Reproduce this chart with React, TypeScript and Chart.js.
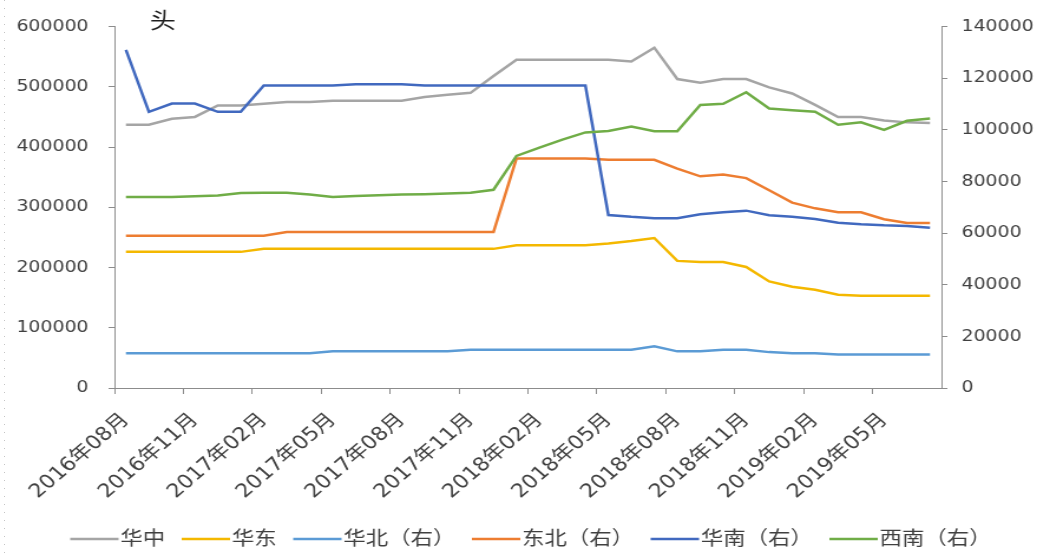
import React, { useEffect, useRef } from "react";
import { Chart, registerables } from "chart.js";

Chart.register(...registerables);

// ---------- data ----------
const categories: string[] = [
  "2016年08月", "2016年09月", "2016年10月", "2016年11月", "2016年12月", "2017年01月",
  "2017年02月", "2017年03月", "2017年04月", "2017年05月", "2017年06月", "2017年07月",
  "2017年08月", "2017年09月", "2017年10月", "2017年11月", "2017年12月", "2018年01月",
  "2018年02月", "2018年03月", "2018年04月", "2018年05月", "2018年06月", "2018年07月",
  "2018年08月", "2018年09月", "2018年10月", "2018年11月", "2018年12月", "2019年01月",
  "2019年02月", "2019年03月", "2019年04月", "2019年05月", "2019年06月", "2019年07月",
];
const tickEvery = 3;

const huazhong: number[] = [
  437000, 437000, 447000, 450000, 469000, 469000, 472000, 475000, 475000, 477000,
  477000, 477000, 477000, 483000, 487000, 490000, 518000, 545000, 545000, 545000,
  545000, 545000, 542000, 565000, 513000, 507000, 513000, 513000, 499000, 489000,
  470000, 450000, 450000, 444000, 441000, 440000,
];
const huadong: number[] = [
  226000, 226000, 226000, 226000, 226000, 226000, 231000, 231000, 231000, 231000,
  231000, 231000, 231000, 231000, 231000, 231000, 231000, 237000, 237000, 237000,
  237000, 240000, 244000, 249000, 211000, 209000, 209000, 201000, 177000, 168000,
  163000, 155000, 153000, 153000, 153000, 153000,
];
const huabei: number[] = [
  13500, 13500, 13500, 13500, 13500, 13500, 13500, 13500, 13500, 14200,
  14200, 14200, 14200, 14200, 14200, 14800, 14800, 14800, 14800, 14800,
  14800, 14800, 14800, 16200, 14200, 14200, 14800, 14800, 13900, 13500,
  13500, 13000, 13000, 13000, 13000, 13000,
];
const dongbei: number[] = [
  59000, 59000, 59000, 59000, 59000, 59000, 59000, 60400, 60400, 60400,
  60400, 60400, 60400, 60400, 60400, 60400, 60400, 88900, 88900, 88900,
  88900, 88400, 88400, 88400, 85000, 82000, 82700, 81300, 76600, 71800,
  69600, 68100, 68100, 65400, 63900, 63900,
];
const huanan: number[] = [
  131000, 107000, 110200, 110200, 107000, 107000, 117200, 117200, 117200, 117200,
  117700, 117700, 117700, 117200, 117200, 117200, 117200, 117200, 117200, 117200,
  117200, 67000, 66300, 65800, 65800, 67300, 68100, 68700, 66900, 66300,
  65500, 64000, 63400, 63000, 62800, 62100,
];
const xinan: number[] = [
  74000, 74000, 74000, 74300, 74600, 75500, 75600, 75600, 75000, 74000,
  74400, 74700, 75000, 75100, 75300, 75600, 76800, 89900, 93100, 96200,
  99000, 99600, 101300, 99500, 99500, 109600, 110100, 114600, 108300, 107600,
  107000, 102000, 102900, 100000, 103500, 104400,
];

const seriesNames = ["华中", "华东", "华北（右）", "东北（右）", "华南（右）", "西南（右）"];
const seriesColors = ["#A5A5A5", "#F4B800", "#5B9BD5", "#ED7D31", "#4169BF", "#70AD47"];
const leftTicks = { min: 0, max: 600000, step: 100000 };
const rightTicks = { min: 0, max: 140000, step: 20000 };
const unitText = "头";

// ---------- style ----------
const FONT = '"DejaVu Sans", "Noto Sans CJK SC", sans-serif';
const TEXT = "#404040";
const AXIS = "#8c8c8c";
const CANVAS_W = 890; // stretched to 1050 via CSS
const CANVAS_H = 556;

const unitPlugin = {
  id: "unitLabel",
  afterDraw(chart: any) {
    const { ctx, chartArea } = chart;
    ctx.save();
    ctx.font = `22px ${FONT}`;
    ctx.fillStyle = "#1e1e1e";
    ctx.textAlign = "center";
    ctx.textBaseline = "middle";
    ctx.fillText(unitText, chartArea.left + 41, 22);
    ctx.restore();
  },
};

const legendPlugin = {
  id: "bottomLegend",
  afterDraw(chart: any) {
    const ctx = chart.ctx;
    const SW = 41;
    const GAP = 1.5;
    const ITEM_GAP = 14;
    const CX = 450;
    const Y = 540;
    ctx.save();
    ctx.font = `19px ${FONT}`;
    const items = chart.data.datasets.map((ds: any) => ({
      text: ds.label as string,
      color: ds.borderColor as string,
      w: ctx.measureText(ds.label).width,
    }));
    const total =
      items.reduce((a: number, it: any) => a + SW + GAP + it.w, 0) + ITEM_GAP * (items.length - 1);
    let x = CX - total / 2;
    for (const it of items) {
      ctx.strokeStyle = it.color;
      ctx.lineWidth = 2.5;
      ctx.beginPath();
      ctx.moveTo(x, Y - 1);
      ctx.lineTo(x + SW, Y - 1);
      ctx.stroke();
      ctx.fillStyle = TEXT;
      ctx.textAlign = "left";
      ctx.textBaseline = "middle";
      ctx.fillText(it.text, x + SW + GAP, Y);
      x += SW + GAP + it.w + ITEM_GAP;
    }
    ctx.restore();
  },
};

export default function App() {
  const ref = useRef<HTMLCanvasElement>(null);

  useEffect(() => {
    if (!ref.current) return;
    Chart.defaults.font.family = FONT;
    const data = [huazhong, huadong, huabei, dongbei, huanan, xinan];
    const axes = ["y", "y", "y1", "y1", "y1", "y1"];
    const datasets = data.map((d, i) => ({
      label: seriesNames[i],
      data: d,
      yAxisID: axes[i],
      borderColor: seriesColors[i],
      backgroundColor: seriesColors[i],
      borderWidth: 2.5,
      pointRadius: 0,
      pointHoverRadius: 0,
      tension: 0,
      fill: false,
      order: data.length - i,
    }));

    const gridTickColor = (c: any) =>
      typeof c.index === "number" && c.index % tickEvery === 0 ? AXIS : "rgba(0,0,0,0)";

    const chart = new Chart(ref.current, {
      type: "line",
      data: { labels: categories, datasets },
      plugins: [unitPlugin, legendPlugin],
      options: {
        responsive: false,
        animation: false,
        devicePixelRatio: 1,
        layout: { padding: { top: 20, left: 0, right: 0, bottom: 0 } },
        plugins: {
          legend: { display: false },
          tooltip: { enabled: false },
          title: { display: false },
        },
        scales: {
          x: {
            type: "category",
            offset: true,
            grid: {
              offset: true,
              drawOnChartArea: false,
              drawTicks: true,
              tickLength: 6,
              color: gridTickColor,
              tickColor: gridTickColor,
            },
            border: { display: true, color: AXIS, width: 1 },
            ticks: {
              autoSkip: false,
              maxRotation: 45,
              minRotation: 45,
              padding: 15,
              color: TEXT,
              font: { size: 19, family: FONT },
              callback: (_v: any, idx: number) =>
                idx % tickEvery === 0 ? categories[idx] : "",
            },
            afterFit: (s: any) => {
              s.height = CANVAS_H - 388;
            },
          },
          y: {
            type: "linear",
            position: "left",
            min: leftTicks.min,
            max: leftTicks.max,
            grid: { drawOnChartArea: false, tickLength: 5, color: AXIS },
            border: { display: true, color: AXIS, width: 1 },
            ticks: {
              stepSize: leftTicks.step,
              padding: 17,
              color: TEXT,
              font: { size: 16, family: FONT },
              callback: (v: any) => String(v),
            },
            afterFit: (s: any) => {
              s.width = 97;
            },
          },
          y1: {
            type: "linear",
            position: "right",
            min: rightTicks.min,
            max: rightTicks.max,
            grid: { drawOnChartArea: false, tickLength: 5, color: AXIS },
            border: { display: true, color: AXIS, width: 1 },
            ticks: {
              stepSize: rightTicks.step,
              padding: 12,
              color: TEXT,
              font: { size: 16, family: FONT },
              callback: (v: any) => String(v),
            },
            afterFit: (s: any) => {
              s.width = CANVAS_W - 798;
            },
          },
        },
      },
    } as any);

    return () => chart.destroy();
  }, []);

  return (
    <div
      style={{
        position: "absolute",
        left: 0,
        top: 0,
        width: 1050,
        height: 556,
        background: "#ffffff",
        overflow: "hidden",
      }}
    >
      <div
        style={{
          position: "absolute",
          left: 4,
          top: 0,
          width: 1,
          height: 556,
          backgroundImage:
            "repeating-linear-gradient(to bottom, #c4c4c4 0px, #c4c4c4 1px, transparent 1px, transparent 8px)",
        }}
      />
      <canvas
        ref={ref}
        width={CANVAS_W}
        height={CANVAS_H}
        style={{ position: "absolute", left: 0, top: 0, width: "1050px", height: "556px" }}
      />
    </div>
  );
}
